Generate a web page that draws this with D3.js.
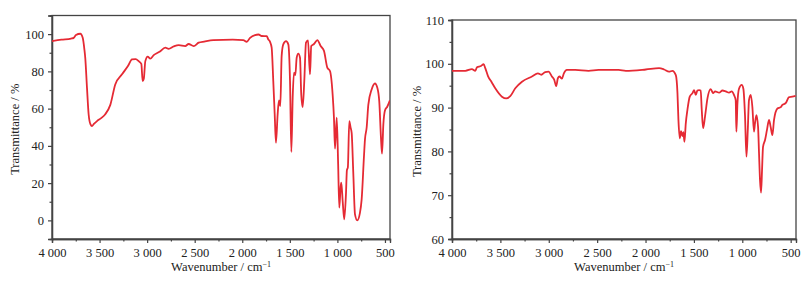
<!DOCTYPE html>
<html>
<head>
<meta charset="utf-8">
<script src="https://cdn.jsdelivr.net/npm/d3@7"></script>
<style>
  body { margin: 0; background: #fff; }
  svg { display: block; }
  text { font-family: "Liberation Serif", "Times New Roman", serif; fill: #222; }
</style>
</head>
<body>
<svg id="chart" width="812" height="286"></svg>
<script>
"use strict";

// 왼쪽 스펙트럼 (파수, 투과율)
const spectrumA = [
  [4000, 96.2], [3900, 97], [3800, 97.6], [3772, 98], [3748, 99.5], [3702, 100.2], [3677, 98],
  [3660, 92], [3650, 87], [3632, 71], [3615, 57], [3595, 51.5], [3580, 50.6], [3560, 51.8],
  [3527, 53.3], [3480, 55], [3440, 57], [3387, 62], [3335, 73], [3264, 78.4], [3200, 83],
  [3159, 86.4], [3120, 86.6], [3089, 85.5], [3061, 84], [3047, 74.8], [3035, 76], [3019, 85.5],
  [2994, 87.9], [2967, 86.8], [2931, 88.7], [2870, 90.5], [2809, 92.7], [2774, 92.1], [2720, 93.4],
  [2668, 94.1], [2599, 93.6], [2564, 94.7], [2511, 93.6], [2458, 95.4], [2400, 96], [2305, 96.8],
  [2100, 97], [1989, 96.8], [1953, 95.9], [1918, 98], [1866, 99.5], [1829, 99.8], [1796, 99],
  [1743, 98.9], [1727, 97.2], [1709, 96], [1691, 92.7], [1674, 74.8], [1659, 57], [1646, 41.7],
  [1628, 57], [1614, 64.4], [1600, 61.4], [1586, 88.2], [1569, 94.5], [1540, 96.2], [1516, 94.5],
  [1498, 74.8], [1484, 36.7], [1470, 65.9], [1456, 79.3], [1442, 78], [1428, 87.3], [1411, 89.5],
  [1393, 87.3], [1380, 67.6], [1365, 60.8], [1348, 74.8], [1330, 95.4], [1309, 96.6], [1288, 78.4],
  [1275, 93.6], [1246, 94.7], [1211, 96.8], [1176, 93.6], [1141, 91], [1106, 82], [1078, 80.2],
  [1050, 67.6], [1036, 55], [1025, 38.5], [1007, 55.1], [992, 30], [980, 6.8], [966, 18],
  [959, 20.2], [944, 10], [928, 0.5], [910, 14], [900, 27], [890, 28.5], [875, 53.3], [862, 50],
  [850, 47], [833, 25.6], [815, 3.2], [791, 0], [763, 4], [745, 11.3], [720, 35], [710, 43.5],
  [692, 50], [675, 62], [640, 70.3], [605, 73.5], [581, 71.3], [560, 64], [542, 44.4],
  [531, 35.8], [517, 51.5], [500, 59], [476, 61], [448, 64.4]
];

// 오른쪽 스펙트럼 (파수, 투과율)
const spectrumB = [
  [4000, 98.4], [3862, 98.4], [3794, 98.8], [3759, 98.4], [3742, 99.2], [3700, 99.5], [3673, 99.9],
  [3656, 99], [3628, 97.2], [3590, 95.8], [3553, 94.4], [3484, 92.5], [3439, 92.1], [3398, 92.6],
  [3346, 94.4], [3277, 95.9], [3174, 97.1], [3112, 97.8], [3078, 97.5], [3037, 98.1], [3002, 98.2],
  [2968, 97.1], [2944, 96.4], [2923, 94.9], [2906, 96.7], [2889, 97.1], [2864, 96.6], [2844, 97.8],
  [2813, 98.6], [2727, 98.6], [2589, 98.4], [2485, 98.6], [2279, 98.6], [2204, 98.4], [1997, 98.7],
  [1860, 99], [1808, 98.7], [1757, 98.2], [1722, 98.4], [1687, 97.4], [1670, 93.3], [1660, 87.2],
  [1646, 83], [1633, 84.6], [1619, 83.5], [1609, 84.4], [1598, 82.2], [1584, 86.4], [1567, 89.5],
  [1543, 92.5], [1515, 93.3], [1498, 94], [1481, 92.9], [1464, 93.9], [1447, 94], [1430, 93.9],
  [1419, 89.5], [1405, 85.3], [1385, 88], [1360, 92.1], [1326, 94.2], [1302, 93.3], [1281, 93.7],
  [1240, 93.4], [1205, 93.9], [1171, 93.7], [1137, 93.4], [1109, 93.7], [1086, 92.9], [1068, 91.7],
  [1061, 84.5], [1050, 91], [1034, 94.3], [1006, 95.2], [989, 94.3], [972, 88.2], [957, 78.8],
  [943, 85], [931, 91.7], [913, 92.9], [896, 90.2], [879, 84.5], [869, 86.4], [854, 88.3],
  [837, 85.6], [827, 79.5], [817, 73.5], [806, 70.6], [796, 75.7], [786, 81], [765, 82.6],
  [745, 84.9], [724, 87.2], [707, 85.6], [689, 83.7], [672, 87.2], [637, 89.8], [603, 90.1],
  [586, 90.6], [552, 91], [517, 92.4], [483, 92.5], [449, 92.7]
];

// 눈금 값들
const xTicksMajor = [4000, 3500, 3000, 2500, 2000, 1500, 1000, 500];
const xTicksMinor = [3750, 3250, 2750, 2250, 1750, 1250, 750];
const yTicksA = [0, 20, 40, 60, 80, 100];
const yMinorA = [-10, 10, 30, 50, 70, 90, 110];
const yTicksB = [60, 70, 80, 90, 100, 110];
const yMinorB = [65, 75, 85, 95, 105];

const xLabel = "Wavenumber / cm";
const yLabel = "Transmittance / %";

const svg = d3.select("#chart");

function fmtX(d) {
  return d >= 1000 ? Math.floor(d / 1000) + " " + String(d % 1000).padStart(3, "0") : String(d);
}

function drawPanel(opt) {
  const { left, right, top, bottom } = opt;
  const g = svg.append("g");

  const xScale = d3.scaleLinear().domain(opt.xDomain).range([left, right]);
  const yScale = d3.scaleLinear().domain(opt.yDomain).range([bottom, top]);

  // 프레임
  g.append("rect")
    .attr("x", left).attr("y", top)
    .attr("width", right - left).attr("height", bottom - top)
    .attr("fill", "none").attr("stroke", "#444").attr("stroke-width", 1.3);

  // x축
  const xAxis = d3.axisBottom(xScale).tickValues(xTicksMajor).tickSize(4).tickFormat(fmtX);
  const xg = g.append("g").attr("transform", `translate(0,${bottom})`).call(xAxis);
  const xMinor = d3.axisBottom(xScale).tickValues(xTicksMinor).tickSize(2.5).tickFormat("");
  const xmg = g.append("g").attr("transform", `translate(0,${bottom})`).call(xMinor);

  // y축
  const yAxis = d3.axisLeft(yScale).tickValues(opt.yTicks).tickSize(4);
  const yg = g.append("g").attr("transform", `translate(${left},0)`).call(yAxis);
  const yMinor = d3.axisLeft(yScale).tickValues(opt.yMinor.filter(v => v > opt.yDomain[0] && v <= opt.yDomain[1])).tickSize(2.5).tickFormat("");
  const ymg = g.append("g").attr("transform", `translate(${left},0)`).call(yMinor);

  [xg, xmg, yg, ymg].forEach(a => {
    a.select(".domain").attr("stroke", "#444").attr("stroke-width", 1.3);
    a.selectAll(".tick line").attr("stroke", "#444").attr("stroke-width", 1.2);
    a.selectAll(".tick text").style("font-family", "Liberation Serif, serif").style("font-size", "12.5px").attr("fill", "#222");
  });
  xg.selectAll(".tick text").attr("dy", "0.85em");
  yg.selectAll(".tick text").attr("dx", "-1px");

  // 축 제목
  const xt = g.append("text")
    .attr("x", (left + right) / 2).attr("y", 271)
    .attr("text-anchor", "middle").style("font-size", "12.5px")
    .text(xLabel);
  xt.append("tspan").attr("dy", "-4").style("font-size", "8px").text("\u2212" + "1");

  g.append("text")
    .attr("transform", `translate(${opt.yLabelX},${(top + bottom) / 2 + 2}) rotate(-90)`)
    .attr("text-anchor", "middle").style("font-size", "12.5px")
    .text(yLabel);

  // 클립
  const clipId = "clip" + opt.id;
  svg.append("clipPath").attr("id", clipId)
    .append("rect").attr("x", left).attr("y", top).attr("width", right - left).attr("height", bottom - top);

  const line = d3.line()
    .x(d => xScale(d[0]))
    .y(d => yScale(d[1]))
    .curve(d3.curveMonotoneX);

  g.append("path")
    .attr("clip-path", `url(#${clipId})`)
    .attr("d", line(opt.data))
    .attr("fill", "none")
    .attr("stroke", "#e52a34")
    .attr("stroke-width", 1.8)
    .attr("stroke-linejoin", "round");
}

drawPanel({
  id: "A", data: spectrumA, left: 52, right: 390, top: 15.5, bottom: 239,
  xDomain: [4000, 447], yDomain: [-10, 110], yTicks: yTicksA, yMinor: yMinorA, yLabelX: 19
});

drawPanel({
  id: "B", data: spectrumB, left: 452, right: 796, top: 20, bottom: 239,
  xDomain: [4000, 445], yDomain: [60, 110], yTicks: yTicksB, yMinor: yMinorB, yLabelX: 421
});
</script>
</body>
</html>
